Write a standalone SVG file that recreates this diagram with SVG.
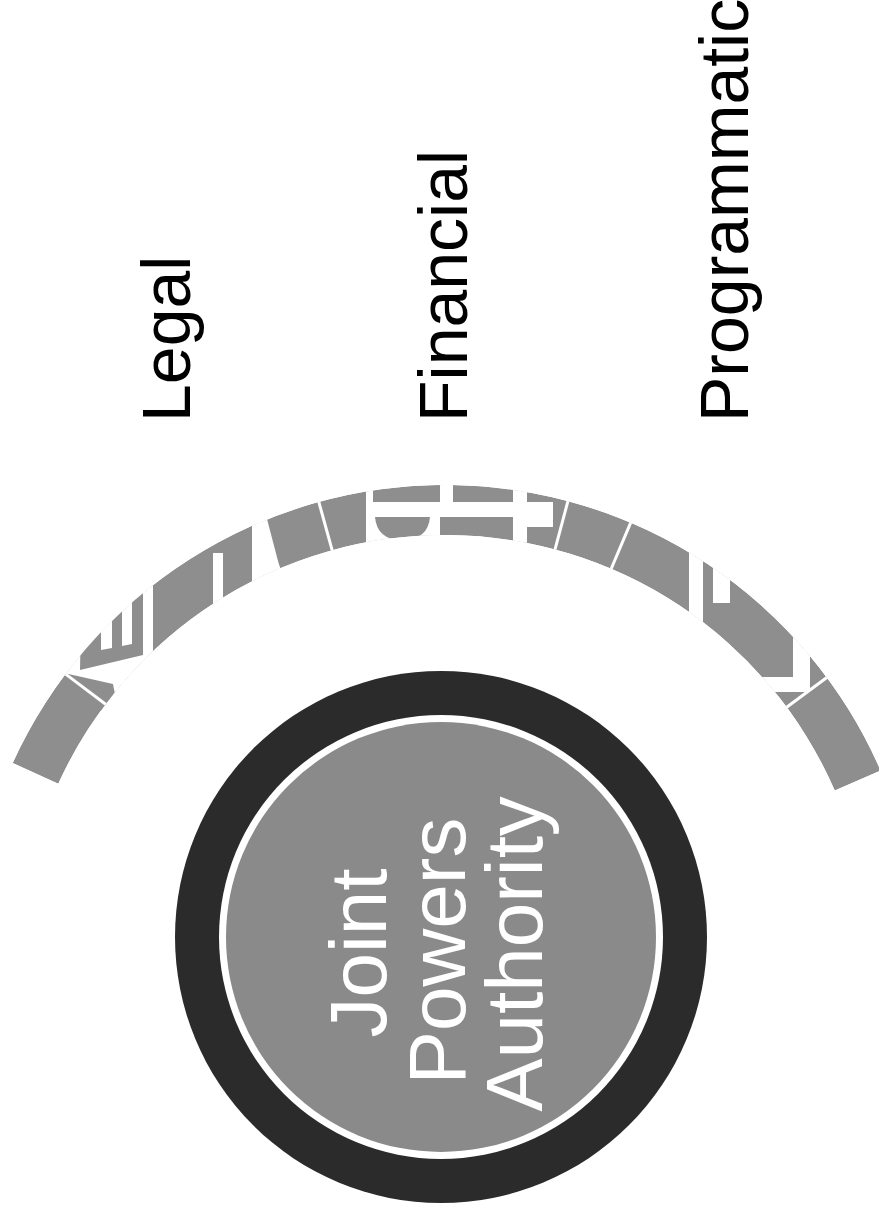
<svg xmlns="http://www.w3.org/2000/svg" width="879" height="1216" viewBox="0 0 879 1216">
<style>
.lbl{font-family:"Liberation Sans",Arial,sans-serif;font-size:68px;fill:#000}
.jpa{font-family:"Liberation Sans",Arial,sans-serif;font-size:80px;fill:#fff;text-anchor:middle}
.band{fill:#8e8e8e}
.cut{fill:#fff}
.grey{fill:#8e8e8e}
.div{stroke:#fff;stroke-width:3}
</style>
<defs>
<clipPath id="bandClip"><path d="M12.7,763 A475,475 0 0 1 880.6,770.6 L834.8,790.6 A425,425 0 0 0 58.25,783.8 Z"/></clipPath>
</defs>
<rect width="879" height="1216" fill="#fff"/>
<g id="arc">
<g clip-path="url(#bandClip)">
<path class="band" d="M12.7,763 A475,475 0 0 1 880.6,770.6 L834.8,790.6 A425,425 0 0 0 58.25,783.8 Z"/>
<polygon class="cut" points="61.7,671.1 109.6,707.2 153,665 153,540 90,600"/>
<polygon class="grey" points="80,670 82,560 101,560 101,650 112,648 112,560 122,560 122,646 132,644 132,560 143,560 143,655"/>
<polygon class="grey" points="64,673 113,684 120,720 110,720"/>
<rect class="cut" x="213" y="553" width="10" height="77"/>
<polygon class="cut" points="252,500 262,500 283,580 252,610"/>
<rect class="cut" x="366" y="480" width="7" height="80"/>
<rect class="cut" x="373" y="502" width="180" height="15"/>
<rect class="cut" x="527" y="502" width="26" height="25"/>
<rect class="cut" x="440" y="480" width="13" height="37"/>
<rect class="cut" x="430" y="517" width="10" height="43"/>
<path class="cut" d="M373,517 L375,517 Q377,540 402,540 Q428,540 430,517 L430,560 L373,560 Z"/>
<rect class="cut" x="513" y="480" width="14" height="90"/>
<rect class="cut" x="689" y="540" width="14" height="100"/>
<rect class="cut" x="713" y="540" width="17" height="63"/>
<polygon class="cut" points="793,600 810,600 810,692 740,692 740,677 793,677"/>
<g class="div">
<line x1="109.6" y1="707.2" x2="61.7" y2="671.1"/>
<line x1="280.9" y1="573.4" x2="257.5" y2="518.2"/>
<line x1="333.5" y1="555.1" x2="317.5" y2="497.2"/>
<line x1="553.7" y1="554.3" x2="569.2" y2="496.4"/>
<line x1="609" y1="574" x2="632.6" y2="518.2"/>
<line x1="782.6" y1="710.2" x2="830.9" y2="674.5"/>
</g>
</g>
</g>
<g id="jpa">
<circle cx="441" cy="937" r="266" fill="#2b2b2b"/>
<circle cx="441" cy="937" r="222" fill="#fff"/>
<circle cx="441" cy="937" r="215" fill="#8a8a8a"/>
<text class="jpa" transform="translate(386,953) rotate(-90)">Joint</text>
<text class="jpa" transform="translate(465,951) rotate(-90)">Powers</text>
<text class="jpa" transform="translate(542,954) rotate(-90)">Authority</text>
</g>
<g id="legal"><text class="lbl" transform="translate(190,422) rotate(-90)">Legal</text></g>
<g id="financial"><text class="lbl" transform="translate(467,422) rotate(-90)">Financial</text></g>
<g id="programmatic"><text class="lbl" transform="translate(748,422) rotate(-90)">Programmatic</text></g>
<g id="connectors"/>
</svg>
